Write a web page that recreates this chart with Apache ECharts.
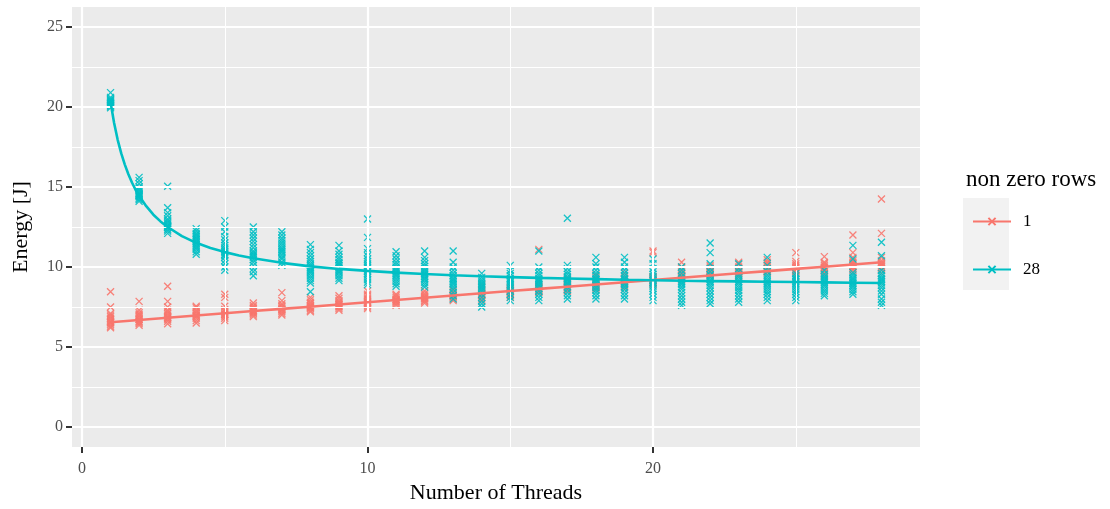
<!DOCTYPE html>
<html><head><meta charset="utf-8">
<script src="https://cdn.jsdelivr.net/npm/echarts@6/dist/echarts.min.js"></script>
<style>html,body{margin:0;padding:0;background:#fff}#c{width:1110px;height:509px}</style>
</head><body><div id="c"></div>
<script>
const threads = [1,2,3,4,5,6,7,8,9,10,11,12,13,14,15,16,17,18,19,20,21,22,23,24,25,26,27,28];
const energy1 = [
 [6.2,6.3,6.4,6.5,6.55,6.6,6.7,6.8,6.9,7.0,7.1,7.5,8.45],
 [6.35,6.45,6.55,6.6,6.7,6.75,6.85,6.95,7.05,7.15,7.3,7.85],
 [6.45,6.6,6.7,6.8,6.85,6.9,7.0,7.1,7.2,7.3,7.5,7.85,8.8],
 [6.5,6.65,6.8,6.9,6.95,7.0,7.1,7.2,7.3,7.45,7.55],
 [6.65,6.8,6.9,7.0,7.05,7.1,7.2,7.3,7.35,7.55,8.1,8.3],
 [6.9,7.0,7.1,7.15,7.2,7.25,7.3,7.4,7.5,7.6,7.75],
 [7.0,7.1,7.2,7.3,7.35,7.4,7.5,7.6,7.7,7.9,8.4],
 [7.2,7.3,7.4,7.45,7.5,7.55,7.6,7.7,7.8,7.95,8.1],
 [7.3,7.4,7.5,7.55,7.6,7.65,7.7,7.8,7.9,8.05,8.2],
 [7.4,7.5,7.6,7.7,7.75,7.8,7.85,7.95,8.05,8.2,8.3,8.5],
 [7.6,7.7,7.8,7.85,7.9,7.95,8.0,8.1,8.2,8.3],
 [7.75,7.85,7.9,8.0,8.05,8.1,8.15,8.25,8.35,8.5],
 [7.9,8.0,8.1,8.15,8.2,8.25,8.3,8.4,8.5,8.6],
 [7.85,8.0,8.1,8.2,8.25,8.3,8.35,8.45,8.6,8.75,8.9],
 [8.1,8.2,8.3,8.35,8.4,8.45,8.5,8.55,8.6,8.7],
 [8.4,8.45,8.5,8.55,8.6,8.65,8.7,8.8,8.9,9.1,11.1],
 [8.5,8.55,8.6,8.65,8.7,8.75,8.8,8.9,9.0,9.2,9.35],
 [8.6,8.7,8.75,8.8,8.85,8.9,9.0,9.1,9.2,9.35,9.5],
 [8.6,8.75,8.85,8.9,9.0,9.05,9.1,9.2,9.3,9.45,9.65],
 [8.9,9.0,9.05,9.1,9.15,9.2,9.25,9.3,9.35,9.4,10.9,11.0],
 [9.2,9.3,9.35,9.4,9.45,9.5,9.6,9.7,9.85,10.0,10.3],
 [9.4,9.5,9.55,9.6,9.65,9.7,9.75,9.8,9.9,10.0,10.1],
 [9.4,9.5,9.6,9.65,9.7,9.75,9.8,9.9,10.0,10.15,10.3],
 [9.65,9.7,9.75,9.8,9.85,9.9,10.0,10.1,10.2,10.3,10.45],
 [9.4,9.6,9.7,9.8,9.85,9.9,10.0,10.1,10.2,10.35,10.9],
 [9.45,9.6,9.7,9.8,9.9,9.95,10.0,10.1,10.2,10.3,10.65],
 [9.65,9.8,9.9,10.0,10.05,10.1,10.2,10.3,10.4,10.6,10.9,12.0],
 [9.6,9.8,9.9,10.0,10.1,10.15,10.2,10.3,10.4,10.6,12.1,14.25]
];
const energy28 = [
 [19.95,20.05,20.1,20.15,20.2,20.25,20.3,20.35,20.4,20.45,20.5,20.6,20.9],
 [14.1,14.2,14.3,14.4,14.45,14.5,14.55,14.6,14.7,14.8,14.9,15.0,15.2,15.4,15.6],
 [12.1,12.25,12.35,12.45,12.5,12.55,12.6,12.7,12.8,12.9,13.0,13.2,13.4,13.7,15.05],
 [10.8,10.95,11.1,11.2,11.3,11.4,11.5,11.6,11.7,11.8,11.9,12.0,12.1,12.25,12.4],
 [9.8,10.0,10.2,10.4,10.6,10.7,10.8,10.9,11.0,11.1,11.2,11.35,11.5,11.7,11.9,12.2,12.5,12.9],
 [9.45,9.7,9.9,10.1,10.3,10.45,10.6,10.7,10.8,10.9,11.0,11.2,11.4,11.6,11.8,12.0,12.2,12.5],
 [10.1,10.3,10.5,10.6,10.75,10.9,11.0,11.1,11.2,11.35,11.5,11.65,11.8,12.0,12.2],
 [8.45,9.0,9.15,9.3,9.45,9.6,9.7,9.8,9.9,10.0,10.1,10.2,10.35,10.5,10.7,10.9,11.1,11.4],
 [9.15,9.3,9.45,9.6,9.7,9.8,9.9,10.0,10.1,10.2,10.3,10.45,10.6,10.8,11.0,11.35],
 [8.9,9.05,9.2,9.35,9.5,9.6,9.7,9.8,9.9,10.0,10.1,10.2,10.35,10.5,10.7,10.9,11.15,11.85,13.0],
 [8.8,8.95,9.1,9.25,9.4,9.5,9.6,9.7,9.8,9.9,10.0,10.15,10.3,10.5,10.7,10.95],
 [8.75,8.9,9.05,9.2,9.3,9.4,9.5,9.6,9.7,9.8,9.9,10.05,10.2,10.4,10.6,11.0],
 [8.0,8.2,8.4,8.6,8.75,8.9,9.0,9.1,9.2,9.3,9.45,9.6,9.8,10.0,10.3,11.0],
 [7.5,7.7,7.9,8.1,8.3,8.5,8.6,8.7,8.8,8.9,9.0,9.1,9.2,9.35,9.6],
 [7.9,8.1,8.3,8.5,8.65,8.8,8.9,9.0,9.1,9.2,9.3,9.45,9.6,9.8,10.1],
 [7.9,8.1,8.3,8.5,8.65,8.8,8.9,9.0,9.1,9.2,9.3,9.45,9.6,9.8,10.0,11.0],
 [8.0,8.2,8.4,8.6,8.75,8.9,9.0,9.1,9.2,9.3,9.4,9.55,9.7,9.9,10.1,13.05],
 [8.0,8.2,8.4,8.55,8.7,8.85,9.0,9.1,9.2,9.3,9.45,9.6,9.8,10.0,10.2,10.6],
 [8.0,8.2,8.4,8.6,8.75,8.9,9.0,9.1,9.2,9.3,9.45,9.6,9.8,10.0,10.3,10.6],
 [7.9,8.1,8.3,8.5,8.65,8.8,8.95,9.05,9.15,9.25,9.4,9.55,9.7,9.9,10.2,10.5],
 [7.6,7.8,8.0,8.2,8.4,8.6,8.75,8.9,9.0,9.1,9.25,9.4,9.6,9.8,10.0],
 [7.7,7.9,8.1,8.3,8.5,8.7,8.85,9.0,9.1,9.2,9.35,9.5,9.7,9.9,10.2,10.9,11.5],
 [7.8,8.0,8.2,8.4,8.55,8.7,8.85,9.0,9.1,9.2,9.35,9.5,9.7,9.9,10.2],
 [7.9,8.1,8.3,8.45,8.6,8.75,8.9,9.0,9.1,9.2,9.35,9.5,9.7,9.9,10.1,10.6],
 [7.9,8.1,8.3,8.45,8.6,8.75,8.9,9.0,9.1,9.2,9.3,9.45,9.6],
 [8.2,8.35,8.5,8.65,8.8,8.9,9.0,9.1,9.2,9.3,9.4,9.55,9.8],
 [8.3,8.45,8.6,8.75,8.85,8.95,9.05,9.15,9.25,9.35,9.5,9.65,10.5,11.35],
 [7.6,7.8,8.0,8.3,8.5,8.7,8.85,9.0,9.1,9.2,9.3,9.45,9.6,9.8,10.7,11.55]
];
const fitX1 = [1,2,3,4,5,6,7,8,9,10,11,12,13,14,15,16,17,18,19,20,21,22,23,24,25,26,27,28];
const fit1 = [6.55,6.69,6.83,6.97,7.11,7.25,7.38,7.52,7.66,7.80,7.94,8.08,8.22,8.36,8.50,8.63,8.77,8.91,9.05,9.19,9.33,9.47,9.61,9.74,9.88,10.02,10.16,10.30];
const fitX28 = [1,1.125,1.25,1.375,1.5,1.625,1.75,1.875,2,2.25,2.5,2.75,3,3.5,4,4.5,5,5.5,6,7,8,9,10,11,12,13,14,15,16,17,18,19,20,21,22,23,24,25,26,27,28];
const fit28 = [20.3,19.0,17.95,17.1,16.4,15.8,15.28,14.83,14.45,13.8,13.27,12.85,12.5,11.93,11.51,11.19,10.93,10.72,10.55,10.26,10.04,9.88,9.76,9.65,9.56,9.48,9.42,9.37,9.32,9.28,9.24,9.2,9.17,9.14,9.12,9.1,9.08,9.06,9.04,9.02,9.0];
const xTicks = [0,10,20];
const yTicks = [0,5,10,15,20,25];
const xMinor = [5,15,25];
const yMinor = [2.5,7.5,12.5,17.5,22.5];
const seriesNames = ['1','28'];
const colors = ['#F8766D','#00BFC4'];

const FONT = 'Liberation Serif';
const XMARK = 'path://M0,0L10,10M10,0L0,10';

function pts(arr){
  const out = [];
  arr.forEach((vals,i)=>vals.forEach(v=>out.push([threads[i], v])));
  return out;
}
function zip(xs, ys){ return xs.map((x,i)=>[x, ys[i]]); }

const chart = echarts.init(document.getElementById('c'), null, {renderer:'canvas'});
const gridLine = (vals, axis, w) => vals.map(v => ({[axis]: v, lineStyle:{color:'#FFFFFF', width:w, type:'solid'}}));

chart.setOption({
  animation:false,
  backgroundColor:'#FFFFFF',
  title:{text:'non zero rows', left:961, top:163, textStyle:{fontFamily:FONT, fontSize:23, fontWeight:'normal', color:'#000'}},
  graphic:[{type:'rect', left:963, top:198, shape:{width:46, height:92}, style:{fill:'#F2F2F2'}, z:0, silent:true}],
  legend:{
    data:seriesNames, orient:'vertical', left:967, top:208, itemWidth:38, itemHeight:9, itemGap:31,
    textStyle:{fontFamily:FONT, fontSize:17, color:'#000', padding:[0,0,0,7]},
    selectedMode:false
  },
  grid:{left:72, right:190, top:7, bottom:61, show:true, backgroundColor:'#EBEBEB', borderWidth:0},
  xAxis:{
    type:'value', min:-0.35, max:29.35,
    name:'Number of Threads', nameLocation:'middle', nameGap:35,
    nameTextStyle:{fontFamily:FONT, fontSize:22, color:'#000'},
    axisLine:{show:true, onZero:false, lineStyle:{color:'rgba(0,0,0,0)', width:1}},
    axisTick:{show:true, customValues:xTicks, length:6, lineStyle:{color:'#333333', width:2}},
    axisLabel:{customValues:xTicks, margin:14, fontFamily:FONT, fontSize:16, color:'#4D4D4D'},
    splitLine:{show:false}
  },
  yAxis:{
    type:'value', min:-1.25, max:26.25,
    name:'Energy [J]', nameLocation:'middle', nameGap:40, nameRotate:90,
    nameTextStyle:{fontFamily:FONT, fontSize:22, color:'#000'},
    axisLine:{show:true, onZero:false, lineStyle:{color:'rgba(0,0,0,0)', width:1}},
    axisTick:{show:true, customValues:yTicks, length:6, lineStyle:{color:'#333333', width:2}},
    axisLabel:{customValues:yTicks, margin:9, fontFamily:FONT, fontSize:16, color:'#4D4D4D'},
    splitLine:{show:false}
  },
  series:[
    {name:'1', type:'line', data:zip(fitX1, fit1), showSymbol:false, symbol:XMARK, symbolSize:7, z:5,
     smooth:false, lineStyle:{color:colors[0], width:2.6}, itemStyle:{color:colors[0], borderColor:colors[0], borderWidth:1.2}},
    {name:'28', type:'line', data:zip(fitX28, fit28), showSymbol:false, symbol:XMARK, symbolSize:7, z:6,
     smooth:false, lineStyle:{color:colors[1], width:2.6}, itemStyle:{color:colors[1], borderColor:colors[1], borderWidth:1.2}},
    {name:'grid', type:'scatter', data:[], z:1, silent:true,
     markLine:{silent:true, symbol:['none','none'], label:{show:false}, animation:false,
       data:[].concat(gridLine(xMinor,'xAxis',1), gridLine(yMinor,'yAxis',1), gridLine(xTicks,'xAxis',2.2), gridLine(yTicks,'yAxis',2.2))}},
    {name:'1', type:'scatter', data:pts(energy1), symbol:XMARK, symbolSize:7, z:2,
     itemStyle:{color:colors[0], borderColor:colors[0], borderWidth:1.3, opacity:0.9}},
    {name:'28', type:'scatter', data:pts(energy28), symbol:XMARK, symbolSize:7, z:3,
     itemStyle:{color:colors[1], borderColor:colors[1], borderWidth:1.3, opacity:0.9}}
  ]
});
</script></body></html>
